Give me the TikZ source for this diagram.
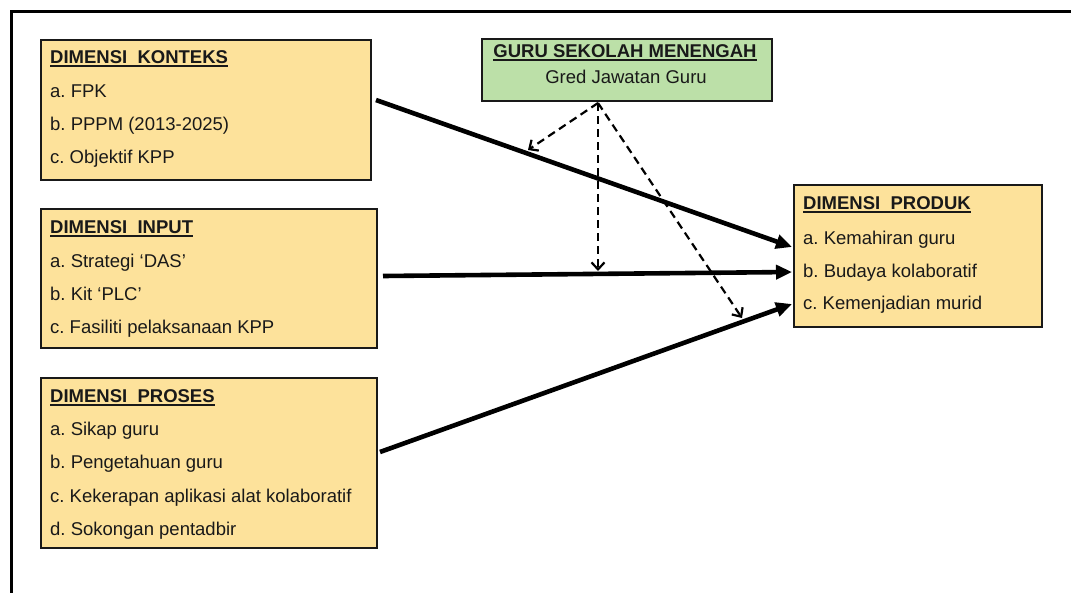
\documentclass[tikz,border=0pt]{standalone}
\usepackage{fontspec}
\setmainfont{Liberation Sans}
\usetikzlibrary{arrows.meta,calc}
\definecolor{boxyellow}{RGB}{253,226,155}
\definecolor{boxgreen}{RGB}{188,224,168}
\definecolor{edge}{RGB}{25,25,25}
\newcommand\myul[1]{\setbox0\hbox{#1}\rlap{\rule[-3.8pt]{\wd0}{1.5pt}}\box0}
\frenchspacing
\begin{document}
\frenchspacing
\begin{tikzpicture}[x=1pt,y=-1pt,
  dimbox/.style={draw=edge,line width=1.4pt,fill=boxyellow,anchor=north west,inner sep=0pt,outer sep=0pt},
  gurubox/.style={dimbox,fill=boxgreen},
  txt/.style={anchor=base west,inner sep=0pt,text=edge,font=\fontsize{18.5}{22}\selectfont\frenchspacing},
  ttl/.style={txt,font=\fontsize{18.5}{22}\selectfont\bfseries},
  ctxt/.style={txt,anchor=base},
  cttl/.style={ttl,anchor=base},
  mainarr/.style={line width=4.6pt,draw=black,-{Triangle[length=16pt,width=14pt]}},
  modarr/.style={line width=2.2pt,draw=black,dash pattern=on 8pt off 5pt,-{Straight Barb[length=7pt,width=13pt]}}
]
\useasboundingbox (0,0) rectangle (1071,592);
\fill[white] (0,0) rectangle (1071,592);
% outer frame
\draw[line width=3pt] (11,600) -- (11,11) -- (1080,11);

% boxes
\node[dimbox,minimum width=330pt,minimum height=140pt] (konteks) at (41,40) {};
\node[dimbox,minimum width=336pt,minimum height=139pt] (input) at (41,209) {};
\node[dimbox,minimum width=336pt,minimum height=170pt] (proses) at (41,378) {};
\node[dimbox,minimum width=248pt,minimum height=142pt] (produk) at (794,185) {};
\node[gurubox,minimum width=290pt,minimum height=62pt] (guru) at (482,39) {};

% texts: konteks
\node[ttl] (k0) at (50,63) {\myul{DIMENSI\ \ KONTEKS}};
\node[txt] (k1) at (50,97) {a. FPK};
\node[txt] (k2) at (50,130) {b. PPPM (2013-2025)};
\node[txt] (k3) at (50,163) {c. Objektif KPP};
% input
\node[ttl] (i0) at (50,233) {\myul{DIMENSI\ \ INPUT}};
\node[txt] (i1) at (50,267) {a. Strategi ‘DAS’};
\node[txt] (i2) at (50,300) {b. Kit ‘PLC’};
\node[txt] (i3) at (50,333) {c. Fasiliti pelaksanaan KPP};
% proses
\node[ttl] (p0) at (50,402) {\myul{DIMENSI\ \ PROSES}};
\node[txt] (p1) at (50,435) {a. Sikap guru};
\node[txt] (p2) at (50,468) {b. Pengetahuan guru};
\node[txt] (p3) at (50,502) {c. Kekerapan aplikasi alat kolaboratif};
\node[txt] (p4) at (50,535) {d. Sokongan pentadbir};
% produk
\node[ttl] (r0) at (803,209) {\myul{DIMENSI\ \ PRODUK}};
\node[txt] (r1) at (803,244) {a. Kemahiran guru};
\node[txt] (r2) at (803,277) {b. Budaya kolaboratif};
\node[txt] (r3) at (803,309) {c. Kemenjadian murid};
% guru
\node[cttl] (g0) at (625,57) {\myul{GURU SEKOLAH MENENGAH}};
\node[ctxt] (g1) at (626,83) {Gred Jawatan Guru};

% main arrows
\draw[mainarr] ($(konteks.east)+(5,-10)$) -- ($(produk.west)+(-2,-9)$);
\draw[mainarr] ($(input.east)+(6,-2.5)$) -- ($(produk.west)+(-2,16)$);
\draw[mainarr] ($(proses.east)+(3,-11)$) -- ($(produk.west)+(-2,48)$);

% moderating arrows
\coordinate (gs) at ($(guru.south)+(-29,2)$);
\coordinate (d1) at (528,150);
\coordinate (d2) at (598,271);
\coordinate (d3) at (742,318);
\draw[modarr] (gs) -- (d1);
\draw[modarr] (gs) -- (d2);
\draw[modarr] (gs) -- (d3);
\end{tikzpicture}
\end{document}
